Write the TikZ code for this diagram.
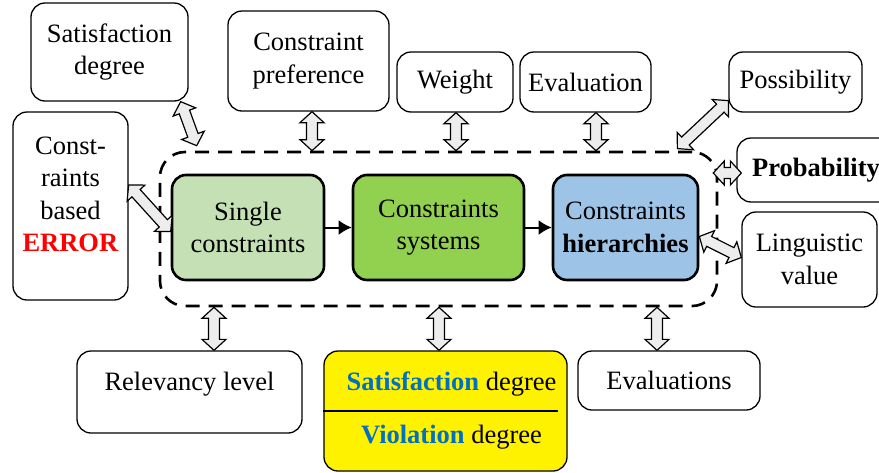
\documentclass[tikz,border=0pt]{standalone}
\usepackage{fontspec}
\setmainfont{Liberation Serif}
\usetikzlibrary{arrows.meta,positioning,calc}
\definecolor{singlegreen}{RGB}{197,224,180}
\definecolor{sysgreen}{RGB}{146,208,80}
\definecolor{hierblue}{RGB}{157,195,230}
\definecolor{textblue}{RGB}{0,112,192}

\tikzset{
  box/.style={draw, line width=1.3pt, rounded corners=14pt, align=center, inner sep=0pt},
  core/.style={draw, line width=2.6pt, rounded corners=14pt, align=center, inner sep=0pt, minimum height=105pt},
  frame/.style={draw, line width=2.6pt, dash pattern=on 14pt off 9pt, rounded corners=25pt},
  link/.style={draw, line width=1.2pt, fill=black!7, line join=miter}
}
% hollow double-headed block arrow between two points
\newcommand{\bidir}[2]{%
  \path[link] let \p1=($(#2)-(#1)$), \n1={atan2(\y1,\x1)}, \n2={veclen(\x1,\y1)} in
    [shift={(#1)}, rotate=\n1]
    (0pt,0pt) -- (11pt,12pt) -- (11pt,5.5pt) -- ({\n2-11pt},5.5pt) -- ({\n2-11pt},12pt)
    -- ({\n2+0pt},0pt) -- ({\n2-11pt},-12pt) -- ({\n2-11pt},-5.5pt) -- (11pt,-5.5pt)
    -- (11pt,-12pt) -- cycle;}

\begin{document}
\begin{tikzpicture}[x=1pt, y=-1pt, font=\fontsize{26.5}{32.5}\selectfont]
    \useasboundingbox (0,0) rectangle (879,472);

    % Dashed frame
    \node[frame, minimum width=557pt, minimum height=154pt] (frame) at (438.5,229) {};

    % Core chain
    \node[core, fill=singlegreen, minimum width=152pt] (single) at (248,227.5) {Single\\constraints};
    \node[core, fill=sysgreen, minimum width=171pt] (systems) at (438.5,227.5) {Constraints\\systems};
    \node[core, fill=hierblue, minimum width=145pt] (hier) at (625.5,227.5) {Constraints\\\textbf{hierarchies}};
    \draw[-{Latex[length=13pt,width=15pt]}, line width=2pt] (single) -- (systems);
    \draw[-{Latex[length=13pt,width=15pt]}, line width=2pt] (systems) -- (hier);

    % Top row
    \node[box, minimum width=157pt, minimum height=98pt] (satdeg) at (109.5,52) {Satisfaction\\degree};
    \node[box, minimum width=161pt, minimum height=100pt] (pref) at (308.5,61) {Constraint\\preference};
    \node[box, minimum width=116pt, minimum height=60pt] (weight) at (455,82) {Weight};
    \node[box, minimum width=131pt, minimum height=60pt] (eval) at (585.5,82) {Evaluation};
    \node[box, minimum width=133pt, minimum height=60pt] (poss) at (795.5,82) {Possibility};

    % Sides
    \node[box, minimum width=115pt, minimum height=188pt] (err) at (70.5,206) {Const-\\raints\\based\\\textcolor{red}{\textbf{ERROR}}\\[-9pt]\mbox{}};
    \node[box, minimum width=158pt, minimum height=64pt] (prob) at (816,170) {\textbf{Probability}};
    \node[box, minimum width=135pt, minimum height=95pt] (ling) at (809.5,259.5) {Linguistic\\value};

    % Bottom row
    \node[box, minimum width=225pt, minimum height=82pt] (relev) at (189.5,392) {Relevancy level\\[-12pt]\mbox{}};
    \node[box, fill=yellow, minimum width=243pt, minimum height=120pt] (degrees) at (445.5,411) {\hspace*{12pt}\textcolor{textblue}{\textbf{Satisfaction}} degree\\[20.5pt]\hspace*{12pt}\textcolor{textblue}{\textbf{Violation}} degree};
    \draw[line width=1.3pt] (degrees.west) -- ([xshift=-10pt]degrees.east);
    \node[box, minimum width=182pt, minimum height=59pt] (evals) at (669,380.5) {Evaluations};

    % Links above and below the frame
    \foreach \obj/\dx in {pref/3.5,weight/1,eval/10.5} {
        \coordinate (\obj-a) at ([xshift=\dx pt]\obj.south);
        \coordinate (\obj-b) at (\obj-a |- frame.north);
        \bidir{\obj-a}{\obj-b}
    }
    \foreach \obj/\dx in {relev/24.5,degrees/-6.5,evals/-12} {
        \coordinate (\obj-a) at ([xshift=\dx pt]\obj.north);
        \coordinate (\obj-b) at (\obj-a |- frame.south);
        \bidir{\obj-b}{\obj-a}
    }

    % Slanted links
    \coordinate (sat-a) at ([xshift=-8pt]satdeg.south east);
    \coordinate (sat-b) at ([xshift=38pt,yshift=5pt]frame.north west);
    \bidir{sat-a}{sat-b}
    \coordinate (err-a) at ([yshift=21pt]err.east);
    \coordinate (err-b) at ([yshift=-4pt]single.west);
    \bidir{err-a}{err-b}
    \coordinate (poss-a) at ([yshift=12pt]poss.south west);
    \coordinate (poss-b) at ([xshift=-41pt,yshift=2pt]frame.north east);
    \bidir{poss-a}{poss-b}
    \coordinate (prob-a) at ([xshift=-5pt,yshift=-3pt]frame.east |- prob.west);
    \coordinate (prob-b) at ([xshift=5pt,yshift=-3pt]prob.west);
    \bidir{prob-a}{prob-b}
    \coordinate (ling-a) at ([yshift=-9pt]hier.east);
    \coordinate (ling-b) at ([yshift=2pt]ling.west);
    \bidir{ling-a}{ling-b}
\end{tikzpicture}
\end{document}
